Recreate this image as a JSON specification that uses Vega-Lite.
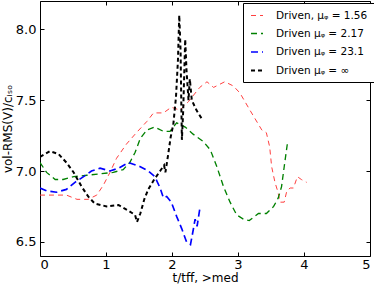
{
  "$schema": "https://vega.github.io/schema/vega-lite/v6.json",
  "width": 330,
  "height": 255,
  "autosize": {"type": "none"},
  "padding": {"left": 40, "top": 1, "right": 4, "bottom": 32},
  "config": {
    "view": {"stroke": "black", "strokeWidth": 1},
    "font": "DejaVu Sans",
    "axis": {"grid": false, "domain": false, "tickColor": "black", "labelColor": "black", "titleColor": "black", "labelFont": "DejaVu Sans", "titleFont": "DejaVu Sans", "titleFontWeight": "normal", "labelFontSize": 13, "titleFontSize": 12}
  },
  "data": {"values": [
    {"s": "Driven, μᵩ = 1.56", "i": 0, "x": 0, "y": 6.83},
    {"s": "Driven, μᵩ = 1.56", "i": 1, "x": 0.20, "y": 6.83},
    {"s": "Driven, μᵩ = 1.56", "i": 2, "x": 0.40, "y": 6.83},
    {"s": "Driven, μᵩ = 1.56", "i": 3, "x": 0.56, "y": 6.80},
    {"s": "Driven, μᵩ = 1.56", "i": 4, "x": 0.73, "y": 6.80},
    {"s": "Driven, μᵩ = 1.56", "i": 5, "x": 0.86, "y": 6.83},
    {"s": "Driven, μᵩ = 1.56", "i": 6, "x": 0.96, "y": 6.90},
    {"s": "Driven, μᵩ = 1.56", "i": 7, "x": 1.06, "y": 6.99},
    {"s": "Driven, μᵩ = 1.56", "i": 8, "x": 1.16, "y": 7.09},
    {"s": "Driven, μᵩ = 1.56", "i": 9, "x": 1.31, "y": 7.19},
    {"s": "Driven, μᵩ = 1.56", "i": 10, "x": 1.46, "y": 7.27},
    {"s": "Driven, μᵩ = 1.56", "i": 11, "x": 1.62, "y": 7.35},
    {"s": "Driven, μᵩ = 1.56", "i": 12, "x": 1.72, "y": 7.41},
    {"s": "Driven, μᵩ = 1.56", "i": 13, "x": 1.87, "y": 7.41},
    {"s": "Driven, μᵩ = 1.56", "i": 14, "x": 1.99, "y": 7.45},
    {"s": "Driven, μᵩ = 1.56", "i": 15, "x": 2.12, "y": 7.43},
    {"s": "Driven, μᵩ = 1.56", "i": 16, "x": 2.25, "y": 7.49},
    {"s": "Driven, μᵩ = 1.56", "i": 17, "x": 2.42, "y": 7.59},
    {"s": "Driven, μᵩ = 1.56", "i": 18, "x": 2.53, "y": 7.63},
    {"s": "Driven, μᵩ = 1.56", "i": 19, "x": 2.63, "y": 7.59},
    {"s": "Driven, μᵩ = 1.56", "i": 20, "x": 2.80, "y": 7.63},
    {"s": "Driven, μᵩ = 1.56", "i": 21, "x": 2.93, "y": 7.60},
    {"s": "Driven, μᵩ = 1.56", "i": 22, "x": 3.03, "y": 7.55},
    {"s": "Driven, μᵩ = 1.56", "i": 23, "x": 3.18, "y": 7.43},
    {"s": "Driven, μᵩ = 1.56", "i": 24, "x": 3.36, "y": 7.29},
    {"s": "Driven, μᵩ = 1.56", "i": 25, "x": 3.43, "y": 7.27},
    {"s": "Driven, μᵩ = 1.56", "i": 26, "x": 3.48, "y": 7.17},
    {"s": "Driven, μᵩ = 1.56", "i": 27, "x": 3.51, "y": 7.03},
    {"s": "Driven, μᵩ = 1.56", "i": 28, "x": 3.56, "y": 6.92},
    {"s": "Driven, μᵩ = 1.56", "i": 29, "x": 3.60, "y": 6.86},
    {"s": "Driven, μᵩ = 1.56", "i": 30, "x": 3.64, "y": 6.78},
    {"s": "Driven, μᵩ = 1.56", "i": 31, "x": 3.70, "y": 6.78},
    {"s": "Driven, μᵩ = 1.56", "i": 32, "x": 3.74, "y": 6.86},
    {"s": "Driven, μᵩ = 1.56", "i": 33, "x": 3.79, "y": 6.88},
    {"s": "Driven, μᵩ = 1.56", "i": 34, "x": 3.84, "y": 6.88},
    {"s": "Driven, μᵩ = 1.56", "i": 35, "x": 3.90, "y": 6.96},
    {"s": "Driven, μᵩ = 1.56", "i": 36, "x": 3.96, "y": 6.94},
    {"s": "Driven, μᵩ = 1.56", "i": 37, "x": 4.04, "y": 6.92},

    {"s": "Driven μᵩ = 2.17", "i": 0, "x": 0, "y": 7.06},
    {"s": "Driven μᵩ = 2.17", "i": 1, "x": 0.10, "y": 6.99},
    {"s": "Driven μᵩ = 2.17", "i": 2, "x": 0.23, "y": 6.94},
    {"s": "Driven μᵩ = 2.17", "i": 3, "x": 0.35, "y": 6.94},
    {"s": "Driven μᵩ = 2.17", "i": 4, "x": 0.51, "y": 6.96},
    {"s": "Driven μᵩ = 2.17", "i": 5, "x": 0.71, "y": 6.97},
    {"s": "Driven μᵩ = 2.17", "i": 6, "x": 0.91, "y": 6.98},
    {"s": "Driven μᵩ = 2.17", "i": 7, "x": 1.11, "y": 6.99},
    {"s": "Driven μᵩ = 2.17", "i": 8, "x": 1.26, "y": 7.01},
    {"s": "Driven μᵩ = 2.17", "i": 9, "x": 1.36, "y": 7.06},
    {"s": "Driven μᵩ = 2.17", "i": 10, "x": 1.44, "y": 7.13},
    {"s": "Driven μᵩ = 2.17", "i": 11, "x": 1.52, "y": 7.23},
    {"s": "Driven μᵩ = 2.17", "i": 12, "x": 1.62, "y": 7.29},
    {"s": "Driven μᵩ = 2.17", "i": 13, "x": 1.74, "y": 7.31},
    {"s": "Driven μᵩ = 2.17", "i": 14, "x": 1.87, "y": 7.28},
    {"s": "Driven μᵩ = 2.17", "i": 15, "x": 1.97, "y": 7.28},
    {"s": "Driven μᵩ = 2.17", "i": 16, "x": 2.07, "y": 7.34},
    {"s": "Driven μᵩ = 2.17", "i": 17, "x": 2.20, "y": 7.31},
    {"s": "Driven μᵩ = 2.17", "i": 18, "x": 2.32, "y": 7.26},
    {"s": "Driven μᵩ = 2.17", "i": 19, "x": 2.47, "y": 7.21},
    {"s": "Driven μᵩ = 2.17", "i": 20, "x": 2.58, "y": 7.15},
    {"s": "Driven μᵩ = 2.17", "i": 21, "x": 2.68, "y": 7.03},
    {"s": "Driven μᵩ = 2.17", "i": 22, "x": 2.78, "y": 6.89},
    {"s": "Driven μᵩ = 2.17", "i": 23, "x": 2.88, "y": 6.78},
    {"s": "Driven μᵩ = 2.17", "i": 24, "x": 2.98, "y": 6.69},
    {"s": "Driven μᵩ = 2.17", "i": 25, "x": 3.08, "y": 6.66},
    {"s": "Driven μᵩ = 2.17", "i": 26, "x": 3.17, "y": 6.65},
    {"s": "Driven μᵩ = 2.17", "i": 27, "x": 3.31, "y": 6.70},
    {"s": "Driven μᵩ = 2.17", "i": 28, "x": 3.43, "y": 6.70},
    {"s": "Driven μᵩ = 2.17", "i": 29, "x": 3.54, "y": 6.75},
    {"s": "Driven μᵩ = 2.17", "i": 30, "x": 3.61, "y": 6.81},
    {"s": "Driven μᵩ = 2.17", "i": 31, "x": 3.66, "y": 6.89},
    {"s": "Driven μᵩ = 2.17", "i": 32, "x": 3.70, "y": 7.03},
    {"s": "Driven μᵩ = 2.17", "i": 33, "x": 3.75, "y": 7.20},

    {"s": "Driven μᵩ = 23.1", "i": 0, "x": 0, "y": 6.88},
    {"s": "Driven μᵩ = 23.1", "i": 1, "x": 0.10, "y": 6.86},
    {"s": "Driven μᵩ = 23.1", "i": 2, "x": 0.25, "y": 6.85},
    {"s": "Driven μᵩ = 23.1", "i": 3, "x": 0.40, "y": 6.87},
    {"s": "Driven μᵩ = 23.1", "i": 4, "x": 0.53, "y": 6.92},
    {"s": "Driven μᵩ = 23.1", "i": 5, "x": 0.66, "y": 6.96},
    {"s": "Driven μᵩ = 23.1", "i": 6, "x": 0.78, "y": 7.00},
    {"s": "Driven μᵩ = 23.1", "i": 7, "x": 0.91, "y": 7.02},
    {"s": "Driven μᵩ = 23.1", "i": 8, "x": 1.06, "y": 7.00},
    {"s": "Driven μᵩ = 23.1", "i": 9, "x": 1.19, "y": 7.02},
    {"s": "Driven μᵩ = 23.1", "i": 10, "x": 1.34, "y": 7.06},
    {"s": "Driven μᵩ = 23.1", "i": 11, "x": 1.52, "y": 7.03},
    {"s": "Driven μᵩ = 23.1", "i": 12, "x": 1.64, "y": 7.00},
    {"s": "Driven μᵩ = 23.1", "i": 13, "x": 1.74, "y": 6.96},
    {"s": "Driven μᵩ = 23.1", "i": 14, "x": 1.82, "y": 6.88},
    {"s": "Driven μᵩ = 23.1", "i": 15, "x": 1.87, "y": 6.81},
    {"s": "Driven μᵩ = 23.1", "i": 16, "x": 1.92, "y": 6.82},
    {"s": "Driven μᵩ = 23.1", "i": 17, "x": 1.99, "y": 6.78},
    {"s": "Driven μᵩ = 23.1", "i": 18, "x": 2.07, "y": 6.68},
    {"s": "Driven μᵩ = 23.1", "i": 19, "x": 2.15, "y": 6.59},
    {"s": "Driven μᵩ = 23.1", "i": 20, "x": 2.22, "y": 6.50},
    {"s": "Driven μᵩ = 23.1", "i": 21, "x": 2.28, "y": 6.48},
    {"s": "Driven μᵩ = 23.1", "i": 22, "x": 2.32, "y": 6.58},
    {"s": "Driven μᵩ = 23.1", "i": 23, "x": 2.35, "y": 6.66},
    {"s": "Driven μᵩ = 23.1", "i": 24, "x": 2.38, "y": 6.61},
    {"s": "Driven μᵩ = 23.1", "i": 25, "x": 2.42, "y": 6.73},

    {"s": "Driven μᵩ = ∞", "i": 0, "x": 0, "y": 7.10},
    {"s": "Driven μᵩ = ∞", "i": 1, "x": 0.15, "y": 7.14},
    {"s": "Driven μᵩ = ∞", "i": 2, "x": 0.28, "y": 7.12},
    {"s": "Driven μᵩ = ∞", "i": 3, "x": 0.40, "y": 7.06},
    {"s": "Driven μᵩ = ∞", "i": 4, "x": 0.51, "y": 6.99},
    {"s": "Driven μᵩ = ∞", "i": 5, "x": 0.63, "y": 6.89},
    {"s": "Driven μᵩ = ∞", "i": 6, "x": 0.73, "y": 6.82},
    {"s": "Driven μᵩ = ∞", "i": 7, "x": 0.83, "y": 6.77},
    {"s": "Driven μᵩ = ∞", "i": 8, "x": 1.01, "y": 6.75},
    {"s": "Driven μᵩ = ∞", "i": 9, "x": 1.19, "y": 6.76},
    {"s": "Driven μᵩ = ∞", "i": 10, "x": 1.34, "y": 6.72},
    {"s": "Driven μᵩ = ∞", "i": 11, "x": 1.44, "y": 6.69},
    {"s": "Driven μᵩ = ∞", "i": 12, "x": 1.47, "y": 6.64},
    {"s": "Driven μᵩ = ∞", "i": 13, "x": 1.52, "y": 6.70},
    {"s": "Driven μᵩ = ∞", "i": 14, "x": 1.58, "y": 6.80},
    {"s": "Driven μᵩ = ∞", "i": 15, "x": 1.64, "y": 6.87},
    {"s": "Driven μᵩ = ∞", "i": 16, "x": 1.73, "y": 6.94},
    {"s": "Driven μᵩ = ∞", "i": 17, "x": 1.82, "y": 7.00},
    {"s": "Driven μᵩ = ∞", "i": 18, "x": 1.88, "y": 7.04},
    {"s": "Driven μᵩ = ∞", "i": 19, "x": 1.90, "y": 6.99},
    {"s": "Driven μᵩ = ∞", "i": 20, "x": 1.94, "y": 7.11},
    {"s": "Driven μᵩ = ∞", "i": 21, "x": 1.98, "y": 7.24},
    {"s": "Driven μᵩ = ∞", "i": 22, "x": 2.02, "y": 7.33},
    {"s": "Driven μᵩ = ∞", "i": 23, "x": 2.06, "y": 7.52},
    {"s": "Driven μᵩ = ∞", "i": 24, "x": 2.09, "y": 7.78},
    {"s": "Driven μᵩ = ∞", "i": 25, "x": 2.11, "y": 8.10},
    {"s": "Driven μᵩ = ∞", "i": 26, "x": 2.13, "y": 7.85},
    {"s": "Driven μᵩ = ∞", "i": 27, "x": 2.14, "y": 7.50},
    {"s": "Driven μᵩ = ∞", "i": 28, "x": 2.15, "y": 7.22},
    {"s": "Driven μᵩ = ∞", "i": 29, "x": 2.17, "y": 7.43},
    {"s": "Driven μᵩ = ∞", "i": 30, "x": 2.20, "y": 7.93},
    {"s": "Driven μᵩ = ∞", "i": 31, "x": 2.22, "y": 7.71},
    {"s": "Driven μᵩ = ∞", "i": 32, "x": 2.25, "y": 7.50},
    {"s": "Driven μᵩ = ∞", "i": 33, "x": 2.27, "y": 7.65},
    {"s": "Driven μᵩ = ∞", "i": 34, "x": 2.30, "y": 7.50},
    {"s": "Driven μᵩ = ∞", "i": 35, "x": 2.37, "y": 7.43},
    {"s": "Driven μᵩ = ∞", "i": 36, "x": 2.45, "y": 7.37}
  ]},
  "layer": [
    {
      "mark": {"type": "line", "strokeCap": "butt", "clip": true},
      "encoding": {
        "x": {"field": "x", "type": "quantitative", "scale": {"domain": [0, 5], "nice": false, "zero": false},
              "axis": {"values": [0, 1, 2, 3, 4, 5], "format": "d", "tickSize": -4, "labelPadding": 6, "title": "t/tff, >med", "titlePadding": 1}},
        "y": {"field": "y", "type": "quantitative", "scale": {"domain": [6.4, 8.2], "nice": false, "zero": false},
              "axis": {"values": [6.5, 7.0, 7.5, 8.0], "format": ".1f", "tickSize": -4, "labelPadding": 8, "title": "vol-RMS(V)/cᵢₛₒ", "titlePadding": 2, "titleX": -26}},
        "order": {"field": "i", "type": "quantitative"},
        "color": {"field": "s", "type": "nominal", "title": null,
                  "scale": {"domain": ["Driven, μᵩ = 1.56", "Driven μᵩ = 2.17", "Driven μᵩ = 23.1", "Driven μᵩ = ∞"], "range": ["#ff4040", "#008000", "#0000ff", "#000000"]},
                  "legend": {"orient": "none", "legendX": 203, "legendY": 2, "symbolType": "stroke", "symbolSize": 144, "labelFontSize": 10.5, "labelFont": "DejaVu Sans", "labelColor": "black", "strokeColor": "black", "fillColor": "white", "padding": 6, "rowPadding": 5.5, "cornerRadius": 0, "symbolOffset": 1, "labelOffset": 12, "labelLimit": 200}},
        "strokeDash": {"field": "s", "type": "nominal", "title": null,
                  "scale": {"domain": ["Driven, μᵩ = 1.56", "Driven μᵩ = 2.17", "Driven μᵩ = 23.1", "Driven μᵩ = ∞"], "range": [[5, 4], [6, 4], [7, 4], [4, 3]]}},
        "strokeWidth": {"field": "s", "type": "nominal", "title": null,
                  "scale": {"domain": ["Driven, μᵩ = 1.56", "Driven μᵩ = 2.17", "Driven μᵩ = 23.1", "Driven μᵩ = ∞"], "range": [1, 2, 3, 4.5]}}
      }
    },
    {
      "mark": {"type": "point", "opacity": 0},
      "encoding": {
        "x": {"field": "x", "type": "quantitative", "scale": {"domain": [0, 5], "nice": false, "zero": false},
              "axis": {"orient": "top", "values": [0, 1, 2, 3, 4, 5], "labels": false, "tickSize": -4, "title": null}},
        "y": {"field": "y", "type": "quantitative", "scale": {"domain": [6.4, 8.2], "nice": false, "zero": false},
              "axis": {"orient": "right", "values": [6.5, 7.0, 7.5, 8.0], "labels": false, "tickSize": -4, "title": null}}
      }
    }
  ],
  "resolve": {"axis": {"x": "independent", "y": "independent"}}
}
